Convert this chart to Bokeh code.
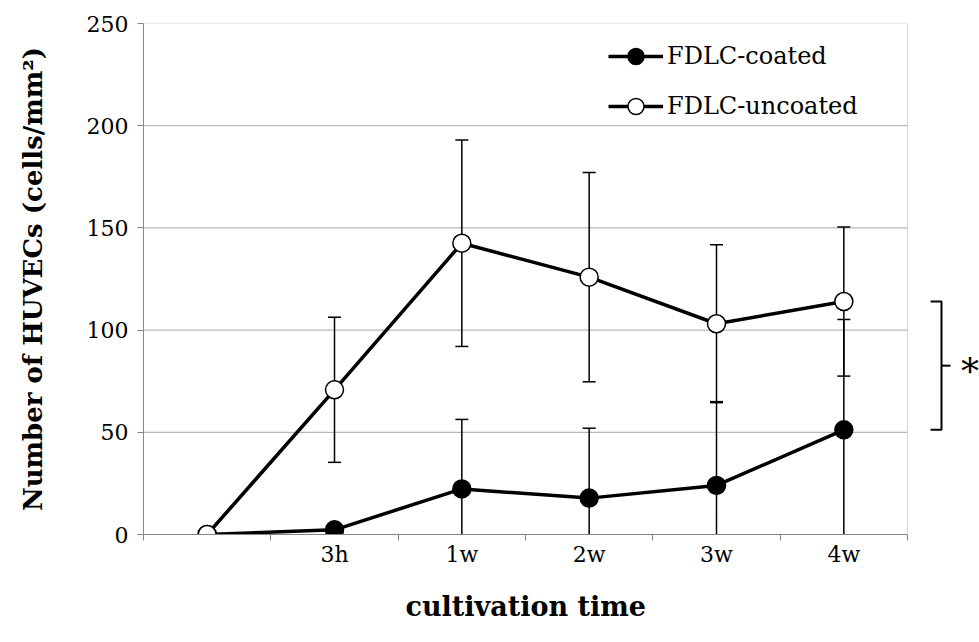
from bokeh.plotting import figure
from bokeh.models import Range1d, FixedTicker, Legend, LegendItem, BoxAnnotation, Title
from bokeh.embed import file_html
from bokeh.resources import INLINE
from bokeh.core.properties import value

# HUVEC counts per culture time (mean and SD, cells/mm^2)
categories = ["", "3h", "1w", "2w", "3w", "4w"]
coated_mean = [0, 2.3, 22.3, 17.8, 24.0, 51.2]
coated_sd = [0, 1.0, 34.0, 34.2, 41.0, 54.0]
uncoated_mean = [0, 70.8, 142.5, 125.9, 103.1, 114.0]
uncoated_sd = [0, 35.5, 50.5, 51.2, 38.6, 36.5]
y_ticks = [0, 50, 100, 150, 200, 250]

FONT = "DejaVu Serif"
AXIS_GRAY = "#868686"
GRID_GRAY = "#a6a6a6"

n = len(categories)
xs = list(range(n))
x_lo, x_hi = -0.5, n - 0.5
# the frame runs on past the last category so the significance bracket fits
extra_px = 72
x_end = x_hi + extra_px / 127.33

p = figure(width=979, height=642, output_backend="svg", toolbar_location=None,
           x_range=Range1d(x_lo, x_end), y_range=Range1d(y_ticks[0], y_ticks[-1]),
           min_border_left=143, min_border_right=0, min_border_top=23,
           min_border_bottom=108)
p.outline_line_color = None
p.xgrid.visible = False
p.ygrid.visible = False

# horizontal gridlines limited to the category area
for t in y_ticks[1:-1]:
    p.segment(x0=[x_lo], x1=[x_hi], y0=[t], y1=[t], line_color=GRID_GRAY, line_width=1)
p.add_layout(BoxAnnotation(left=x_lo, right=x_hi, bottom=y_ticks[0], top=y_ticks[-1],
                           fill_alpha=0, line_color=AXIS_GRAY, line_width=1))

# y axis
yax = p.yaxis[0]
yax.ticker = FixedTicker(ticks=y_ticks)
yax.axis_line_color = AXIS_GRAY
yax.major_tick_line_color = AXIS_GRAY
yax.major_tick_out = 6
yax.major_tick_in = 0
yax.minor_tick_line_color = None
yax.major_label_standoff = 9
yax.major_label_text_font = FONT
yax.major_label_text_font_size = "22px"
yax.major_label_text_color = "black"
yax.axis_label = "Number of HUVECs (cells/mm\u00b2)"
yax.axis_label_text_font = FONT
yax.axis_label_text_font_style = "bold"
yax.axis_label_text_font_size = "26px"
yax.axis_label_text_color = "black"
yax.axis_label_standoff = 36

# x axis: labels at category centres, tick marks between categories
xax = p.xaxis[0]
xax.bounds = (x_lo, x_hi)
xax.ticker = FixedTicker(ticks=xs, minor_ticks=[i + 0.5 for i in range(-1, n)])
xax.major_label_overrides = {i: c for i, c in enumerate(categories)}
xax.axis_line_color = AXIS_GRAY
xax.major_tick_out = 0
xax.major_tick_in = 0
xax.minor_tick_line_color = AXIS_GRAY
xax.minor_tick_out = 6
xax.minor_tick_in = 0
xax.major_label_standoff = 1
xax.major_label_text_font = FONT
xax.major_label_text_font_size = "22px"
xax.major_label_text_color = "black"

# x-axis title, placed so it sits centred under the category area
p.add_layout(Title(text="cultivation time", align="left", offset=262,
                   text_font=FONT, text_font_style="bold", text_font_size="27px",
                   text_color="black", standoff=39), "below")


def error_bars(mean, sd):
    lo = [max(0, m - s) for m, s in zip(mean, sd)]
    hi = [m + s for m, s in zip(mean, sd)]
    keep = [i for i, s in enumerate(sd) if s > 0]
    p.segment(x0=[xs[i] for i in keep], x1=[xs[i] for i in keep],
              y0=[lo[i] for i in keep], y1=[hi[i] for i in keep],
              line_color="black", line_width=1.5)
    p.scatter(x=[xs[i] for i in keep], y=[hi[i] for i in keep], marker="dash",
              size=13, line_color="black", line_width=1.5)
    low_caps = [i for i in keep if mean[i] - sd[i] >= 0]
    p.scatter(x=[xs[i] for i in low_caps], y=[lo[i] for i in low_caps], marker="dash",
              size=13, line_color="black", line_width=1.5)


error_bars(coated_mean, coated_sd)
error_bars(uncoated_mean, uncoated_sd)

line_c = p.line(xs, coated_mean, line_color="black", line_width=3.5)
line_u = p.line(xs, uncoated_mean, line_color="black", line_width=3.5)
pts_c = p.scatter(xs, coated_mean, size=18, fill_color="black", line_color="black",
                  line_width=1.5)
pts_u = p.scatter(xs, uncoated_mean, size=18, fill_color="white", line_color="black",
                  line_width=1.5)

legend = Legend(items=[LegendItem(label="FDLC-coated", renderers=[line_c, pts_c]),
                       LegendItem(label="FDLC-uncoated", renderers=[line_u, pts_u])],
                location=(465, 408), orientation="vertical",
                glyph_width=55, glyph_height=40, spacing=10, label_standoff=4,
                label_text_font=FONT, label_text_font_size="24px",
                label_text_color="black",
                border_line_color=None, background_fill_alpha=0, padding=0, margin=0)
p.add_layout(legend)

# significance bracket between the two series at the last time point
bx_in, bx = x_hi + 0.181, x_hi + 0.267
top, bot = uncoated_mean[-1], coated_mean[-1]
mid = (top + bot) / 2
p.line([bx_in, bx, bx, bx_in], [top, top, bot, bot], line_color="black", line_width=2)
p.segment(x0=[bx], x1=[x_hi + 0.338], y0=[mid], y1=[mid], line_color="black", line_width=2)
p.text(x=[x_hi + 0.49], y=[mid], text=["*"], text_align="center", text_baseline="middle",
       y_offset=6, text_font=value(FONT), text_font_size="36px", text_color="black")

open("out.html", "w").write(file_html(p, INLINE))
